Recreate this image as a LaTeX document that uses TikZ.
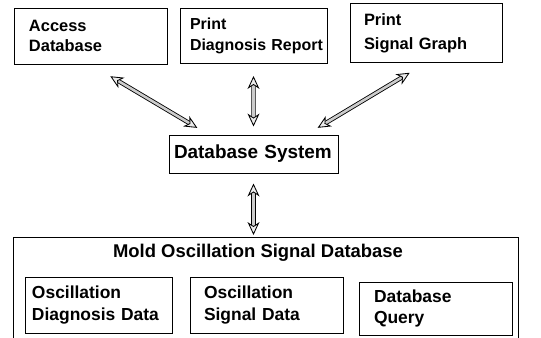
\documentclass[tikz,border=0pt]{standalone}
\usepackage{fontspec}
\setmainfont{Liberation Sans}
\usetikzlibrary{arrows.meta,positioning}
\tikzstyle{blockbox} = [rectangle, draw, line width=1pt, inner ysep=0pt, align=left, font=\bfseries\fontsize{16.5}{19.5}\selectfont]
\tikzstyle{innerbox} = [blockbox, font=\bfseries\fontsize{17.5}{22}\selectfont]
\tikzstyle{dblarrow} = [double=gray!40, double distance=2.6pt, line width=0.85pt, {Stealth[length=13pt,width=12pt,inset=4pt,fill=gray!15]}-{Stealth[length=13pt,width=12pt,inset=4pt,fill=gray!15]}]

\begin{document}
\begin{tikzpicture}[x=1bp, y=-1bp]
\clip (0,0) rectangle (541,337);
% top row
\node[blockbox, minimum width=153bp, minimum height=56bp, inner xsep=15bp, text width=123bp] (access) at (90.5,36) {Access\\Database};
\node[blockbox, minimum width=147bp, minimum height=55bp, inner xsep=10bp, text width=127bp, right=12bp of access, font=\bfseries\fontsize{16}{21}\selectfont] (diagreport) {Print\\\mbox{Diagnosis Report}};
\node[blockbox, minimum width=152bp, minimum height=59bp, inner xsep=14bp, text width=124bp, right=22bp of diagreport, yshift=3bp] (sigraph) {Print\\[5bp]Signal Graph};

\node[blockbox, minimum width=169bp, minimum height=38bp, inner xsep=5bp, text width=159bp, font=\bfseries\fontsize{19}{22}\selectfont] (dbsys) at (253.5,154) {Database System};

% signal database
\node[draw, line width=1pt, minimum width=505bp, minimum height=125bp, anchor=north west] (oscdb) at (13,237) {};
\node[font=\bfseries\fontsize{18.5}{22}\selectfont] (osctitle) at (258,253) {Mold Oscillation Signal Database};
\node[innerbox, minimum width=147bp, minimum height=56bp, inner xsep=7bp, text width=133bp] (oscdiag) at (98.5,305) {Oscillation\\\mbox{Diagnosis Data}};
\node[innerbox, minimum width=153bp, minimum height=56bp, inner xsep=14bp, text width=125bp, right=17bp of oscdiag] (oscsig) {Oscillation\\Signal Data};
\node[innerbox, minimum width=153bp, minimum height=53bp, inner xsep=15bp, text width=123bp, right=15bp of oscsig, yshift=-3.5bp] (dbquery) {Database\\Query};

\draw[dblarrow, shorten <=23bp, shorten >=13bp] (access.south) -- ([xshift=40bp]dbsys.north west);
\draw[dblarrow, shorten <=12bp, shorten >=8bp] (diagreport.south) -- (dbsys.north);
\draw[dblarrow, shorten <=19bp, shorten >=13bp] (sigraph.south) -- ([xshift=-32bp]dbsys.north east);
\draw[dblarrow, shorten <=10bp, shorten >=2bp] (dbsys.south) -- (dbsys.south |- oscdb.north);
\end{tikzpicture}
\end{document}
